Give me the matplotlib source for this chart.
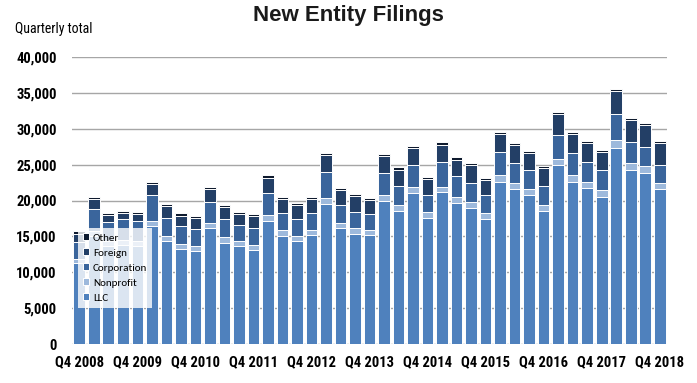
import matplotlib
matplotlib.use("Agg")
import matplotlib.pyplot as plt
import numpy as np

# Quarterly data, Q4 2008 .. Q4 2018 (41 quarters), values in thousands
tick_labels = ["Q4 2008", "Q4 2009", "Q4 2010", "Q4 2011", "Q4 2012",
               "Q4 2013", "Q4 2014", "Q4 2015", "Q4 2016", "Q4 2017", "Q4 2018"]
llc_top = [11.3, 15.0, 13.6, 13.8, 13.7, 16.4, 14.3, 13.2, 12.9, 16.1,
           14.1, 13.7, 13.1, 17.2, 15.05, 14.35, 15.2, 19.5, 16.2, 15.4,
           15.2, 20.0, 18.6, 21.0, 17.5, 21.2, 19.6, 18.9, 17.4, 22.6,
           21.6, 20.7, 18.6, 24.9, 22.6, 21.7, 20.5, 27.3, 24.2, 23.9, 21.6]
nonprofit_top = [11.9, 15.8, 14.3, 14.5, 14.4, 17.1, 15.0, 13.9, 13.6, 16.8,
                 14.9, 14.35, 13.8, 18.0, 15.9, 15.05, 15.9, 20.3, 16.9, 16.1,
                 15.9, 20.8, 19.4, 21.9, 18.4, 21.9, 20.5, 19.8, 18.2, 23.6,
                 22.5, 21.6, 19.4, 25.8, 23.5, 22.6, 21.4, 28.4, 25.2, 24.8, 22.4]
corp_top = [14.2, 18.8, 17.0, 17.4, 17.2, 20.8, 17.6, 16.4, 16.0, 19.8,
            17.4, 16.6, 16.2, 21.1, 18.3, 17.4, 18.3, 24.0, 19.4, 18.4,
            18.1, 23.9, 22.0, 24.9, 20.8, 25.3, 23.4, 22.4, 20.8, 26.7,
            25.2, 24.3, 22.0, 29.1, 26.6, 25.3, 24.2, 32.0, 28.1, 27.5, 25.0]
totals = [15.7, 20.5, 18.3, 18.6, 18.4, 22.6, 19.5, 18.2, 17.8, 21.9,
          19.4, 18.4, 18.1, 23.5, 20.5, 19.7, 20.5, 26.6, 21.7, 20.9,
          20.4, 26.5, 24.6, 27.6, 23.3, 28.1, 26.0, 25.2, 23.2, 29.6,
          28.0, 26.9, 24.8, 32.4, 29.6, 28.3, 27.0, 35.6, 31.5, 30.8, 28.3]
other = [0.3] * 41

llc = np.array(llc_top) * 1000
nonprofit = (np.array(nonprofit_top) - np.array(llc_top)) * 1000
corporation = (np.array(corp_top) - np.array(nonprofit_top)) * 1000
other_v = np.array(other) * 1000
foreign = np.array(totals) * 1000 - np.array(corp_top) * 1000 - other_v

series = [("LLC", llc, "#4F81BD"),
          ("Nonprofit", nonprofit, "#9DB9DC"),
          ("Corporation", corporation, "#3A659C"),
          ("Foreign", foreign, "#233F66"),
          ("Other", other_v, "#0E1A2E")]

narrow = ["Liberation Sans Narrow", "Arial Narrow", "Roboto Condensed",
          "Barlow Semi Condensed", "Liberation Sans", "DejaVu Sans"]
calibri = ["Carlito", "Lato", "DejaVu Sans"]

fig = plt.figure(figsize=(6.97, 3.83), dpi=100)
ax = fig.add_axes([72 / 697, 39 / 383, 595 / 697, 287 / 383])

x = np.arange(len(totals))
bottom = np.zeros(len(totals))
handles = []
for name, vals, col in series:
    h = ax.bar(x, vals, bottom=bottom, width=0.8, color=col,
               edgecolor="white", linewidth=0.7, label=name, zorder=3)
    handles.append(h)
    bottom += vals

ax.set_xlim(-0.5, len(totals) - 0.5)
ax.set_ylim(0, 40000)
ax.set_yticks(np.arange(0, 40001, 5000))
ax.set_yticklabels([f"{v:,}" for v in range(0, 40001, 5000)],
                   fontfamily=narrow, fontweight="bold", fontsize=10.5)
tick_idx = list(range(0, len(totals), 4))
ax.set_xticks(tick_idx)
ax.set_xticklabels(tick_labels, fontfamily=narrow,
                   fontweight="bold", fontsize=10.5)
ax.tick_params(axis="both", length=0)
ax.tick_params(axis="y", pad=11)
ax.tick_params(axis="x", pad=8)
ax.grid(axis="y", color="#A6A6A6", linewidth=1.0, zorder=0)
for s in ax.spines.values():
    s.set_visible(False)

leg = ax.legend(handles[::-1], [s[0] for s in series][::-1],
                loc="upper left", bbox_to_anchor=(0.0, 0.422),
                frameon=True, handlelength=0.6, handleheight=0.6,
                handletextpad=0.35, labelspacing=0.5, borderpad=0.45,
                prop={"family": calibri, "size": 8})
leg.get_frame().set_facecolor("white")
leg.get_frame().set_alpha(0.8)
leg.get_frame().set_edgecolor("none")
leg.get_frame().set_boxstyle("square", pad=0)
leg.set_zorder(5)

fig.text(348, 383 - 16, "New Entity Filings", transform=None, ha="center",
         va="center", fontsize=16, fontweight="bold",
         fontfamily=["Liberation Sans", "DejaVu Sans"], color="#1a1a1a")
fig.text(15, 383 - 29, "Quarterly total", transform=None, ha="left",
         va="center", fontsize=10, fontfamily=narrow)

fig.savefig("out.png", dpi=100)
